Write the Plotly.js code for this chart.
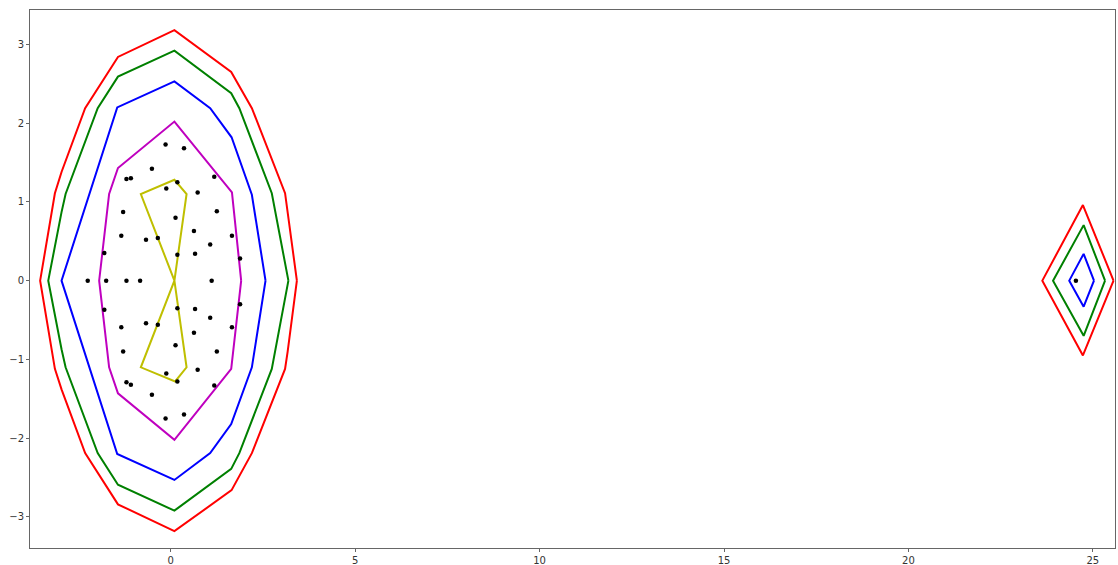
<!DOCTYPE html>
<html>
<head>
<meta charset="utf-8">
<script src="https://cdn.plot.ly/plotly-3.0.1.min.js"></script>
<style>html,body{margin:0;padding:0;background:#fff;}</style>
</head>
<body>
<div id="chart" style="width:1118px;height:565px;"></div>
<script>
// Sample points (black dots)
const pointsX = [
  -0.14, 0.36, -0.51, -1.20, -1.08, 1.18, 0.18, -0.12, 0.73, -1.29, 1.25, 0.13, 0.63, -1.34, -0.67, -0.35, 1.66, 1.07, -1.80, 0.18, 0.66, 1.88,
  -2.25, -1.75, -1.20, -0.83, 1.11,
  -1.80, 0.18, 0.66, 1.88, -0.67, -0.35, 1.07, 1.66, -1.34, 0.63, 0.13, -1.29, 1.25, 0.73, -0.12, 0.18, -1.20, -1.08, 1.18, -0.51, -0.14, 0.36,
  24.54
];
const pointsY = [
  1.73, 1.68, 1.42, 1.29, 1.30, 1.32, 1.25, 1.17, 1.12, 0.87, 0.88, 0.80, 0.63, 0.57, 0.52, 0.54, 0.57, 0.46, 0.35, 0.33, 0.34, 0.28,
  0.0, 0.0, 0.0, 0.0, 0.0,
  -0.37, -0.35, -0.36, -0.30, -0.54, -0.56, -0.47, -0.59, -0.59, -0.66, -0.82, -0.90, -0.90, -1.13, -1.18, -1.28, -1.29, -1.32, -1.33, -1.45, -1.75, -1.70,
  0.0
];

// Contour level 1 (red)
const redLeftX = [3.42, 3.17, 3.10, 2.20, 1.64, 0.10, -1.43, -2.32, -2.96, -3.14, -3.54, -3.14, -2.96, -2.32, -1.43, 0.10, 1.65, 2.20, 3.10, 3.17, 3.42];
const redLeftY = [0.00, 0.90, 1.11, 2.19, 2.65, 3.18, 2.84, 2.19, 1.38, 1.11, 0.00, -1.12, -1.38, -2.19, -2.84, -3.18, -2.66, -2.19, -1.12, -0.90, 0.00];
const redRightX = [25.56, 24.73, 23.63, 24.73, 25.56];
const redRightY = [0.00, 0.96, 0.00, -0.95, 0.00];

// Contour level 2 (green)
const greenLeftX = [3.19, 2.74, 1.86, 1.64, 0.10, -1.43, -1.98, -2.85, -2.96, -3.32, -2.96, -2.85, -1.98, -1.43, 0.10, 1.64, 1.86, 2.74, 3.19];
const greenLeftY = [0.00, 1.11, 2.19, 2.38, 2.92, 2.59, 2.19, 1.10, 0.87, 0.00, -0.87, -1.10, -2.19, -2.59, -2.92, -2.39, -2.19, -1.12, 0.00];
const greenRightX = [25.33, 24.75, 23.92, 24.75, 25.33];
const greenRightY = [0.00, 0.705, 0.00, -0.70, 0.00];

// Contour level 3 (blue)
const blueLeftX = [2.57, 2.20, 1.65, 1.07, 0.10, -1.45, -2.96, -1.45, 0.10, 1.07, 1.64, 2.20, 2.57];
const blueLeftY = [0.00, 1.09, 1.82, 2.19, 2.53, 2.20, 0.00, -2.20, -2.53, -2.19, -1.82, -1.10, 0.00];
const blueRightX = [25.03, 24.75, 24.36, 24.75, 25.03];
const blueRightY = [0.00, 0.34, 0.00, -0.33, 0.00];

// Contour level 4 (magenta)
const magentaX = [1.91, 1.66, 0.10, -1.43, -1.67, -1.94, -1.67, -1.43, 0.10, 1.64, 1.91];
const magentaY = [0.00, 1.12, 2.02, 1.43, 1.10, 0.00, -1.10, -1.43, -2.02, -1.12, 0.00];

// Contour level 5 (yellow)
const yellowX = [0.10, -0.81, 0.10, 0.43, 0.10, -0.81, 0.12, 0.43, 0.10];
const yellowY = [0.00, 1.10, 1.28, 1.10, 0.00, -1.10, -1.28, -1.10, 0.00];

function line(x, y, color) {
  return {x: x, y: y, type: 'scatter', mode: 'lines', line: {color: color, width: 2}, hoverinfo: 'skip', showlegend: false};
}

const traces = [
  line(redLeftX, redLeftY, '#ff0000'),
  line(redRightX, redRightY, '#ff0000'),
  line(greenLeftX, greenLeftY, '#008000'),
  line(greenRightX, greenRightY, '#008000'),
  line(blueLeftX, blueLeftY, '#0000ff'),
  line(blueRightX, blueRightY, '#0000ff'),
  line(magentaX, magentaY, '#bf00bf'),
  line(yellowX, yellowY, '#bfbf00'),
  {x: pointsX, y: pointsY, type: 'scatter', mode: 'markers', marker: {color: '#000000', size: 4.5}, showlegend: false}
];

const axisCommon = {
  showgrid: false, zeroline: false, showline: true, mirror: true,
  linecolor: '#666', linewidth: 1,
  ticks: 'outside', ticklen: 3, tickwidth: 1, tickcolor: '#666',
  tickfont: {family: 'DejaVu Sans', size: 10, color: '#333'}
};

const layout = {
  width: 1118, height: 565,
  margin: {l: 30, r: 3, t: 10, b: 17, pad: 0},
  paper_bgcolor: '#ffffff', plot_bgcolor: '#ffffff',
  showlegend: false,
  xaxis: Object.assign({}, axisCommon, {range: [-3.815, 25.60], tickmode: 'linear', tick0: 0, dtick: 5}),
  yaxis: Object.assign({}, axisCommon, {range: [-3.394, 3.436], tickmode: 'linear', tick0: 0, dtick: 1})
};

Plotly.newPlot('chart', traces, layout, {displayModeBar: false, staticPlot: true});
</script>
</body>
</html>
